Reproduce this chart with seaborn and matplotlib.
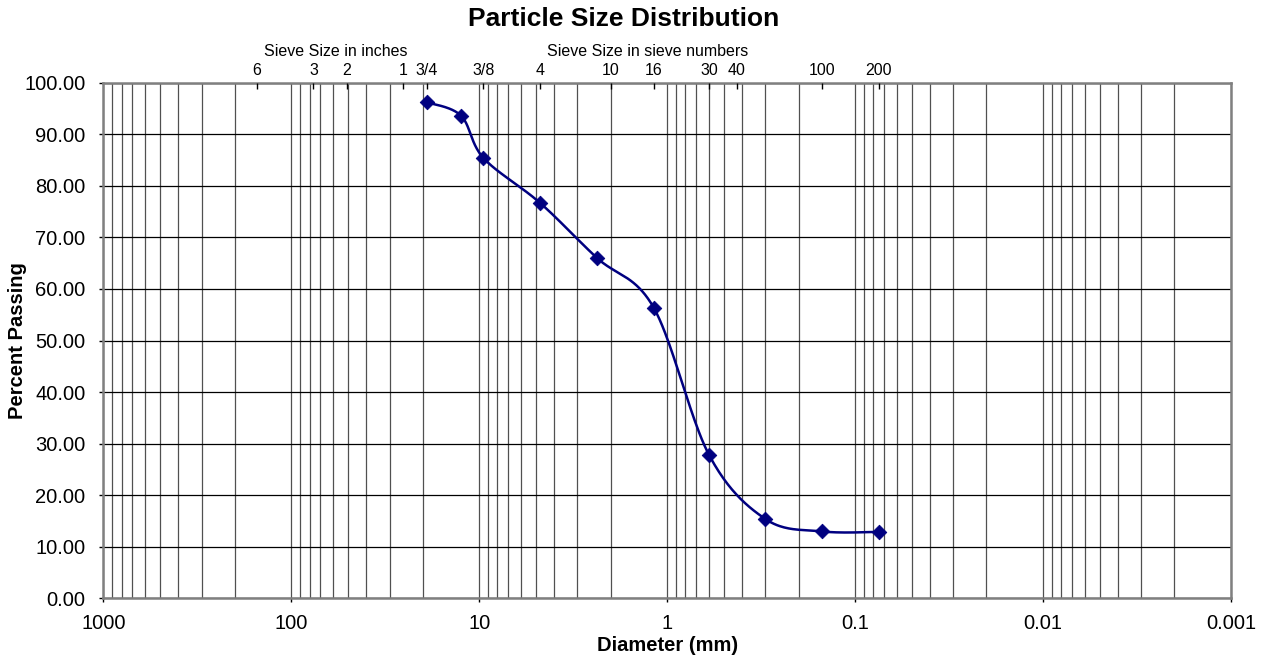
import numpy as np
import pandas as pd
import matplotlib
matplotlib.use('Agg')
import matplotlib.pyplot as plt
import matplotlib.ticker as mticker
import seaborn as sns

# sieve analysis results
diameter_mm = [19.0, 12.5, 9.5, 4.75, 2.36, 1.18, 0.6, 0.3, 0.15, 0.075]
percent_passing = [96.2, 93.6, 85.4, 76.7, 66.0, 56.4, 27.9, 15.4, 13.0, 12.9]

# top axis: sieve openings in mm and their names
inch_sizes = [152.4, 76.2, 50.8, 25.4, 19.05, 9.525]
inch_labels = ['6', '3', '2', '1', '3/4', '3/8']
sieve_sizes = [4.75, 2.0, 1.18, 0.6, 0.425, 0.15, 0.075]
sieve_labels = ['4', '10', '16', '30', '40', '100', '200']

bottom_ticks = [1000, 100, 10, 1, 0.1, 0.01, 0.001]
bottom_labels = ['1000', '100', '10', '1', '0.1', '0.01', '0.001']


def smooth_curve(x, y, steps=40):
    """Excel-like smoothed line (Catmull-Rom as cubic Bezier) in log-x space."""
    pts = np.column_stack([np.log10(x), np.asarray(y, dtype=float)])
    pad = np.vstack([pts[0], pts, pts[-1]])
    t = np.linspace(0, 1, steps)[:, None]
    segs = []
    for i in range(len(pts) - 1):
        p0, p1, p2, p3 = pad[i], pad[i + 1], pad[i + 2], pad[i + 3]
        c1 = p1 + (p2 - p0) / 6
        c2 = p2 - (p3 - p1) / 6
        seg = (1 - t) ** 3 * p1 + 3 * (1 - t) ** 2 * t * c1 + 3 * (1 - t) * t ** 2 * c2 + t ** 3 * p2
        segs.append(seg if i == 0 else seg[1:])
    s = np.vstack(segs)
    return pd.DataFrame({'diameter': 10 ** s[:, 0], 'passing': s[:, 1]})


sns.set_style('white')
plt.rcParams['font.family'] = ['Liberation Sans', 'DejaVu Sans']
plt.rcParams.update({'text.color': 'black', 'axes.labelcolor': 'black',
                     'xtick.color': 'black', 'ytick.color': 'black'})

data = pd.DataFrame({'diameter': diameter_mm, 'passing': percent_passing})
curve = smooth_curve(diameter_mm, percent_passing)

fig = plt.figure(figsize=(12.65, 6.56), dpi=100)
ax = fig.add_axes([0.0817, 0.0877, 0.9731 - 0.0817, 0.874 - 0.0877])

sns.lineplot(data=curve, x='diameter', y='passing', sort=False, estimator=None,
             color='#000080', linewidth=1.8, ax=ax, zorder=3)
sns.scatterplot(data=data, x='diameter', y='passing', marker='D', s=55,
                color='#000080', edgecolor='#000080', ax=ax, zorder=4)

ax.set_xscale('log')
ax.set_xlim(1000, 0.001)
ax.set_ylim(0, 100)
ax.set_xticks(bottom_ticks, bottom_labels)
ax.xaxis.set_minor_locator(mticker.LogLocator(base=10, subs=np.arange(2, 10)))
ax.xaxis.set_minor_formatter(mticker.NullFormatter())
ax.set_yticks(np.arange(0, 101, 10))
ax.yaxis.set_major_formatter(mticker.FormatStrFormatter('%.2f'))

ax.grid(which='both', axis='x', color='#505050', linewidth=0.9)
ax.grid(which='major', axis='y', color='black', linewidth=0.9)
ax.set_axisbelow(True)

ax.tick_params(axis='both', which='major', direction='out', length=3, width=1,
               color='black', labelsize=14.5, bottom=True, left=True)
ax.tick_params(axis='y', pad=10)
ax.tick_params(axis='x', pad=8)
ax.tick_params(axis='x', which='minor', length=0)
for sp in ax.spines.values():
    sp.set_color('#808080')
    sp.set_linewidth(1.8)

ax.set_xlabel('Diameter (mm)', fontsize=14.5, fontweight='bold', labelpad=2)
ax.set_ylabel('Percent Passing', fontsize=14.5, fontweight='bold')
ax.yaxis.set_label_coords(-0.068, 0.5)

# sieve size axis on top
ax2 = ax.twiny()
ax2.set_xscale('log')
ax2.set_xlim(ax.get_xlim())
ax2.set_xticks(inch_sizes + sieve_sizes, inch_labels + sieve_labels)
ax2.xaxis.set_minor_locator(mticker.NullLocator())
ax2.tick_params(axis='x', direction='in', length=4, width=1, color='black',
                labelsize=11.5, pad=3, top=True)
for sp in ax2.spines.values():
    sp.set_visible(False)

fig.text(336 / 1265, 1 - 52 / 656, 'Sieve Size in inches', fontsize=11.5,
         ha='center', va='center')
fig.text(648 / 1265, 1 - 52 / 656, 'Sieve Size in sieve numbers', fontsize=11.5,
         ha='center', va='center')
fig.suptitle('Particle Size Distribution', x=0.493, y=0.99, va='top',
             fontsize=19, fontweight='bold')

fig.savefig('out.png', dpi=100)
